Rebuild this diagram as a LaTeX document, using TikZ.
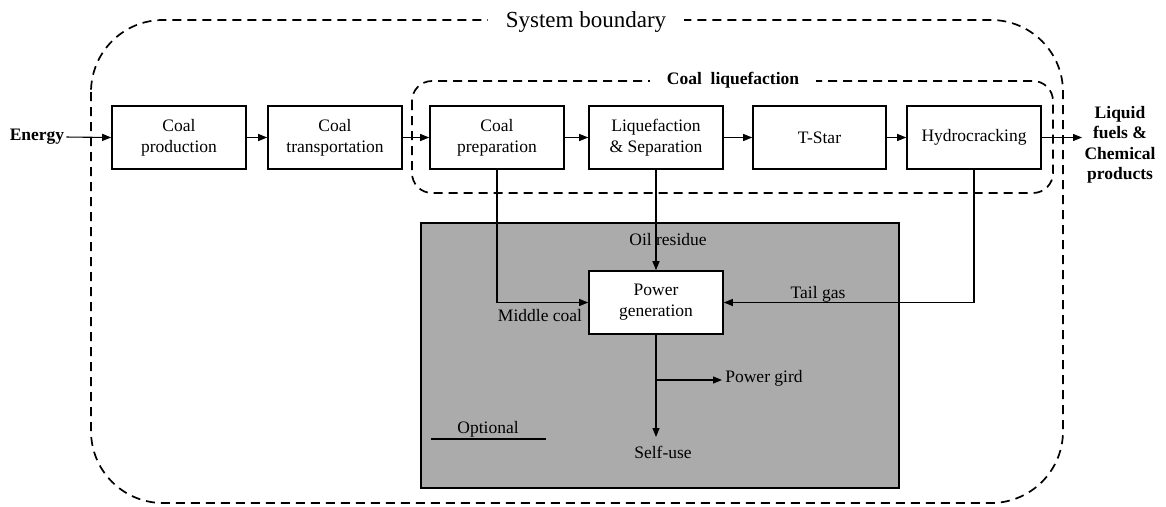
\documentclass[tikz,border=0pt]{standalone}
\usepackage{fontspec}
\setmainfont{Liberation Serif}
\usetikzlibrary{arrows.meta}
\begin{document}
\begin{tikzpicture}[x=1pt,y=-1pt,
  font=\fontsize{17.5}{21}\selectfont,
  procbox/.style={draw,line width=1.6pt,minimum width=#1,minimum height=63pt,align=center,inner sep=0pt,fill=white},
  flow/.style={line width=1.1pt,-{Triangle[length=9pt,width=7pt]}},
  bound/.style={draw,line width=1.7pt,dash pattern=on 9pt off 6pt},
  lbl/.style={inner sep=0pt}]
\useasboundingbox (0,0) rectangle (1166,506);
% system boundary
\draw[bound,rounded corners=72pt] (91,20) rectangle (1063,503);
\node[fill=white,font=\fontsize{23}{26}\selectfont,inner xsep=18pt,inner ysep=3pt] (sb) at (586,22) {System boundary};
% grey optional area
\node[draw,line width=1.4pt,fill=black!33,minimum width=478pt,minimum height=265pt,inner sep=0pt] (opt) at (660,355.5) {};
% coal liquefaction boundary
\draw[bound,rounded corners=20pt] (412,81) rectangle (1053,193);
\node[fill=white,font=\bfseries\fontsize{17.5}{21}\selectfont,inner xsep=17pt,inner ysep=1pt] (cl) at (733,80) {Coal\ \ liquefaction};
% process boxes
\node[procbox=134pt] (cp) at (179,137.5) {Coal\\production};
\node[procbox=134pt] (ct) at (335,137.5) {Coal\\transportation};
\node[procbox=134pt] (prep) at (497,137.5) {Coal\\preparation};
\node[procbox=134pt] (ls) at (656,137.5) {Liquefaction\\\& Separation};
\node[procbox=133pt] (ts) at (819.5,137.5) {T-Star};
\node[procbox=134pt] (hc) at (974,137.5) {Hydrocracking};
\node[procbox=134pt,minimum height=63pt] (pg) at (656,302.5) {Power\\generation};
% labels
\node[lbl,font=\bfseries\fontsize{17.5}{21}\selectfont] (en) at (37,137) {Energy};
\node[lbl,font=\bfseries\fontsize{17.5}{20.5}\selectfont,align=center] (out) at (1120,145) {Liquid\\fuels \&\\Chemical\\products};
\node[lbl] (oil) at (668,240) {Oil residue};
\node[lbl] (tail) at (818,294) {Tail gas};
\node[lbl] (mid) at (540,316) {Middle coal};
\node[lbl] (grid) at (764,378) {Power gird};
\node[lbl] (self) at (663,452) {Self-use};
\node[lbl] (optl) at (488,429) {Optional};
\coordinate (ul1) at (431,439);
\coordinate (ul2) at (546,439);
\draw[line width=1.2pt] (ul1) -- (ul2);
% connectors
\draw[flow,shorten <=2pt] (en.east) -- (cp.west);
\draw[flow] (cp) -- (ct);
\draw[flow] (ct) -- (prep);
\draw[flow] (prep) -- (ls);
\draw[flow] (ls) -- (ts);
\draw[flow] (ts) -- (hc);
\coordinate (outend) at (1082,137.5);
\draw[flow] (hc.east) -- (outend);
\draw[flow] (prep.south) |- (pg.west);
\draw[flow] (ls.south) -- (pg.north);
\draw[flow] (hc.south) |- (pg.east);
\coordinate (self top) at (656,437);
\draw[flow] (pg.south) -- (self top);
\coordinate (br) at (656,380);
\coordinate (grid end) at (722,380);
\draw[flow] (br) -- (grid end);
\end{tikzpicture}
\end{document}
